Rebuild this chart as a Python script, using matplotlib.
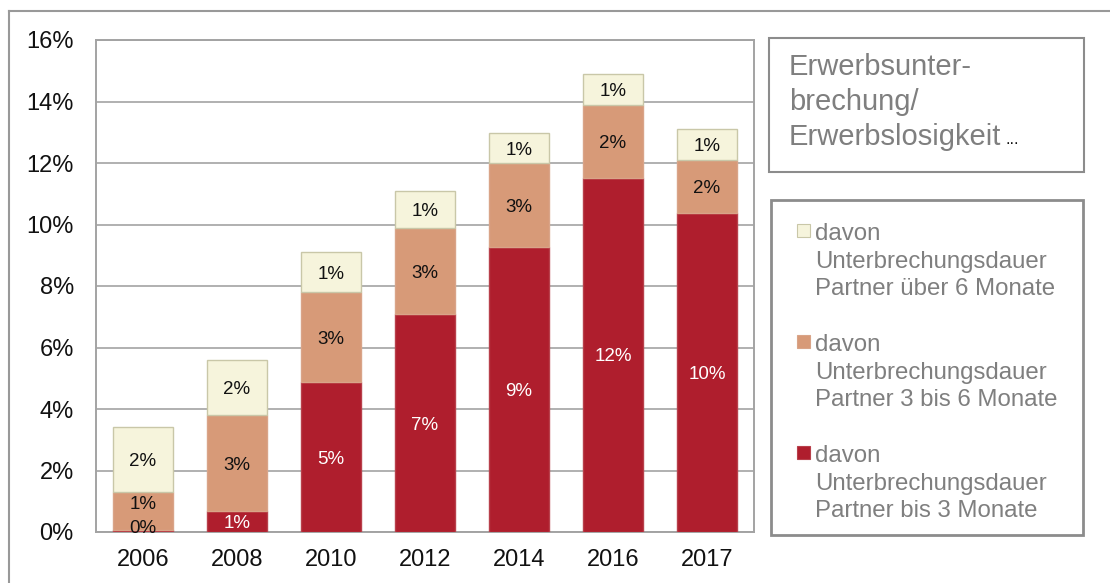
import matplotlib
matplotlib.use("Agg")
import numpy as np
import matplotlib.pyplot as plt
from matplotlib.patches import Rectangle
from matplotlib.lines import Line2D

plt.rcParams['font.family'] = ['Liberation Sans', 'DejaVu Sans']

# data (percent of households)
years = ["2006", "2008", "2010", "2012", "2014", "2016", "2017"]
bis_3 = [0.07, 0.68, 4.87, 7.08, 9.27, 11.52, 10.38]
drei_bis_6 = [1.22, 3.11, 2.92, 2.80, 2.72, 2.36, 1.71]
ueber_6 = [2.11, 1.80, 1.30, 1.22, 0.99, 1.01, 1.02]

series_names = [
    "davon\nUnterbrechungsdauer\nPartner bis 3 Monate",
    "davon\nUnterbrechungsdauer\nPartner 3 bis 6 Monate",
    "davon\nUnterbrechungsdauer\nPartner über 6 Monate",
]
title_lines = ["Erwerbsunter-", "brechung/", "Erwerbslosigkeit"]

colors = ["#AF1E2D", "#D79A78", "#F6F4DC"]
edges = ["#B8404B", "#D9A488", "#C9C7A8"]
label_colors = ["white", "#111111", "#111111"]
grid_col = "#A3A3A3"
text_gray = "#7F7F7F"

W, H = 1110, 583
fig = plt.figure(figsize=(W / 100, H / 100), dpi=100)
ax = fig.add_axes([96 / W, 1 - 532 / H, (754 - 96) / W, (532 - 40) / H])

x = np.arange(len(years))
bottom = np.zeros(len(years))
for vals, col, ec, lc in zip([bis_3, drei_bis_6, ueber_6], colors, edges, label_colors):
    vals = np.array(vals)
    ax.bar(x, vals, 0.63, bottom=bottom, color=col, edgecolor=ec, linewidth=1.0, zorder=3)
    for i, v in enumerate(vals):
        yc = bottom[i] + v / 2
        dy = 0
        c = lc
        # tiny segments: label sits outside the red, so use dark text and nudge up
        if v < 0.5:
            dy, c = 3, "#111111"
        elif i == 0 and bottom[i] < 0.5:
            dy = 6
        ax.annotate(f"{v:.0f}%", (x[i], yc), xytext=(0, dy), textcoords="offset points",
                    ha="center", va="center_baseline", fontsize=13.5, color=c, zorder=4)
    bottom += vals

ax.set_xlim(-0.5, len(years) - 0.5)
ax.set_ylim(0, 16)
ax.set_yticks(np.arange(0, 17, 2))
ax.set_yticklabels([f"{t}%" for t in range(0, 17, 2)])
ax.set_xticks(x)
ax.set_xticklabels(years)
ax.tick_params(axis="both", length=0, labelsize=17, colors="#111111")
ax.tick_params(axis="y", pad=16)
ax.tick_params(axis="x", pad=12)
ax.yaxis.grid(True, color=grid_col, linewidth=1.2, zorder=0)
ax.set_axisbelow(True)
for s in ax.spines.values():
    s.set_color(grid_col)
    s.set_linewidth(1.4)

# outer frame (top and left edge)
fig.add_artist(Line2D([9 / W, 1], [1 - 11 / H, 1 - 11 / H], color="#999999", lw=1.5))
fig.add_artist(Line2D([9 / W, 9 / W], [0, 1 - 11 / H], color="#999999", lw=1.5))

# title box
fig.add_artist(Rectangle((769 / W, 1 - 172 / H), (1084 - 769) / W, (172 - 38) / H,
                         transform=fig.transFigure, fill=False, edgecolor="#8C8C8C", lw=1.5))
for k, line in enumerate(title_lines):
    t = fig.text(789 / W, 1 - (75 + 35 * k) / H, line, fontsize=21, color=text_gray, va="baseline")
ax.annotate("...", xy=(1, 0), xycoords=t, xytext=(3, 3), textcoords="offset points",
            fontsize=12, color="#111111", va="bottom", ha="left", annotation_clip=False)

# legend box, drawn by hand so the swatch sits next to the first line
fig.add_artist(Rectangle((771 / W, 1 - 535 / H), (1083 - 771) / W, (535 - 200) / H,
                         transform=fig.transFigure, fill=False, edgecolor="#8C8C8C", lw=2))
for n, idx in enumerate([2, 1, 0]):
    top = 224 + 111 * n
    fig.add_artist(Rectangle((797 / W, 1 - (top + 13) / H), 13 / W, 13 / H,
                             transform=fig.transFigure, facecolor=colors[idx],
                             edgecolor=edges[idx], lw=0.8))
    for k, line in enumerate(series_names[idx].split("\n")):
        fig.text(815 / W, 1 - (240 + 111 * n + 27.7 * k) / H, line, fontsize=17.3,
                 color=text_gray, va="baseline")

fig.savefig("out.png", dpi=100)
